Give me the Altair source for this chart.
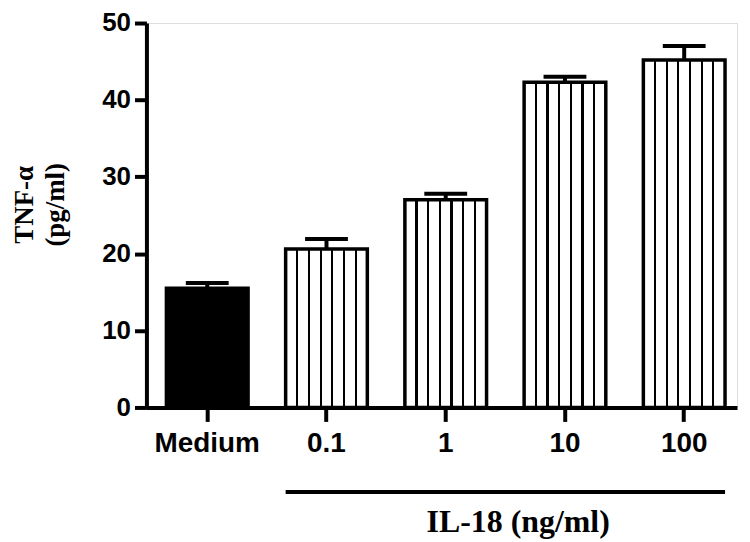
import altair as alt
import pandas as pd

categories = ["Medium", "0.1", "1", "10", "100"]
means = [15.5, 20.6, 27.0, 42.3, 45.2]
errors = [0.7, 1.3, 0.8, 0.7, 1.8]
kinds = ["control", "il18", "il18", "il18", "il18"]

group_label = "IL-18 (ng/ml)"
group_start = "0.1"
group_end = "100"

df = pd.DataFrame({"cat": categories, "mean": means, "err": errors, "kind": kinds})
df["top"] = df["mean"] + df["err"]

grp = pd.DataFrame({"start": [group_start], "end": [group_end], "label": [group_label], "anchor": ["10"]})

SANS = "Liberation Sans"
SERIF = "Liberation Serif"

xscale = alt.Scale(domain=categories, paddingInner=0.315, paddingOuter=0.134, align=0.625)
yscale = alt.Scale(domain=[0, 50], nice=False)

# stripe gradient: 6 thin vertical black lines at k/7
stops = [alt.GradientStop(color="white", offset=0)]
hw = 0.013
for k in range(1, 7):
    c = k / 7
    stops += [
        alt.GradientStop(color="white", offset=c - hw),
        alt.GradientStop(color="black", offset=c - hw),
        alt.GradientStop(color="black", offset=c + hw),
        alt.GradientStop(color="white", offset=c + hw),
    ]
stops.append(alt.GradientStop(color="white", offset=1))
stripe = alt.LinearGradient(gradient="linear", stops=stops, x1=0, x2=1, y1=0, y2=0)

xenc = alt.X(
    "cat:N",
    scale=xscale,
    sort=categories,
    axis=alt.Axis(
        title=None,
        labelAngle=0,
        labelFont=SANS,
        labelFontSize=28,
        labelFontWeight="bold",
        labelColor="black",
        labelPadding=8,
        tickSize=14,
        tickWidth=4,
        tickColor="black",
        domainWidth=4,
        domainColor="black",
    ),
)
yenc = alt.Y(
    "mean:Q",
    scale=yscale,
    axis=alt.Axis(
        values=[0, 10, 20, 30, 40, 50],
        title=["TNF-α", "(pg/ml)"],
        titleFont=SERIF,
        titleFontSize=27,
        titleFontWeight="bold",
        titleColor="black",
        titleAngle=270,
        titleAlign="center",
        titleBaseline="alphabetic",
        titleLineHeight=31,
        titleX=-114,
        titleY=182,
        labelFont=SANS,
        labelFontSize=26,
        labelFontWeight="bold",
        labelColor="black",
        labelPadding=4,
        tickSize=12,
        tickWidth=4,
        tickColor="black",
        domainWidth=4,
        domainColor="black",
        grid=False,
    ),
)

base = alt.Chart(df)

bars_ctrl = base.transform_filter(alt.datum.kind == "control").mark_bar(
    fill="black", stroke="black", strokeWidth=3.5
).encode(x=xenc, y=yenc)

bars_il = base.transform_filter(alt.datum.kind == "il18").mark_bar(
    fill=stripe, stroke="black", strokeWidth=3.5
).encode(x=xenc, y=yenc)

err_rule = base.mark_rule(color="black", strokeWidth=4).encode(
    x=alt.X("cat:N", scale=xscale, sort=categories),
    y=alt.Y("mean:Q", scale=yscale),
    y2="top:Q",
)

err_cap = base.mark_tick(color="black", opacity=1, thickness=4, size=43, orient="horizontal").encode(
    x=alt.X("cat:N", scale=xscale, sort=categories),
    y=alt.Y("top:Q", scale=yscale),
)

gline = alt.Chart(grp).mark_rule(color="black", strokeWidth=4).encode(
    x=alt.X("start:N", scale=xscale, sort=categories, bandPosition=0),
    x2=alt.X2("end:N", bandPosition=1),
    y=alt.value(471),
)

gtext = alt.Chart(grp).mark_text(
    font=SERIF, fontSize=32, fontWeight="bold", color="black", baseline="alphabetic", align="center", dx=-6
).encode(
    x=alt.X("anchor:N", scale=xscale, sort=categories, bandPosition=0),
    y=alt.value(511),
    text="label:N",
)

chart = (
    alt.layer(bars_ctrl, bars_il, err_rule, err_cap, gline, gtext)
    .properties(
        width=593,
        height=386,
        autosize=alt.AutoSizeParams(type="none"),
        padding={"left": 139, "top": 14, "right": 5, "bottom": 132},
    )
    .configure_view(stroke=None)
    .configure(background="white")
)

chart.save("out.html", embed_options={"renderer": "svg", "actions": False})
